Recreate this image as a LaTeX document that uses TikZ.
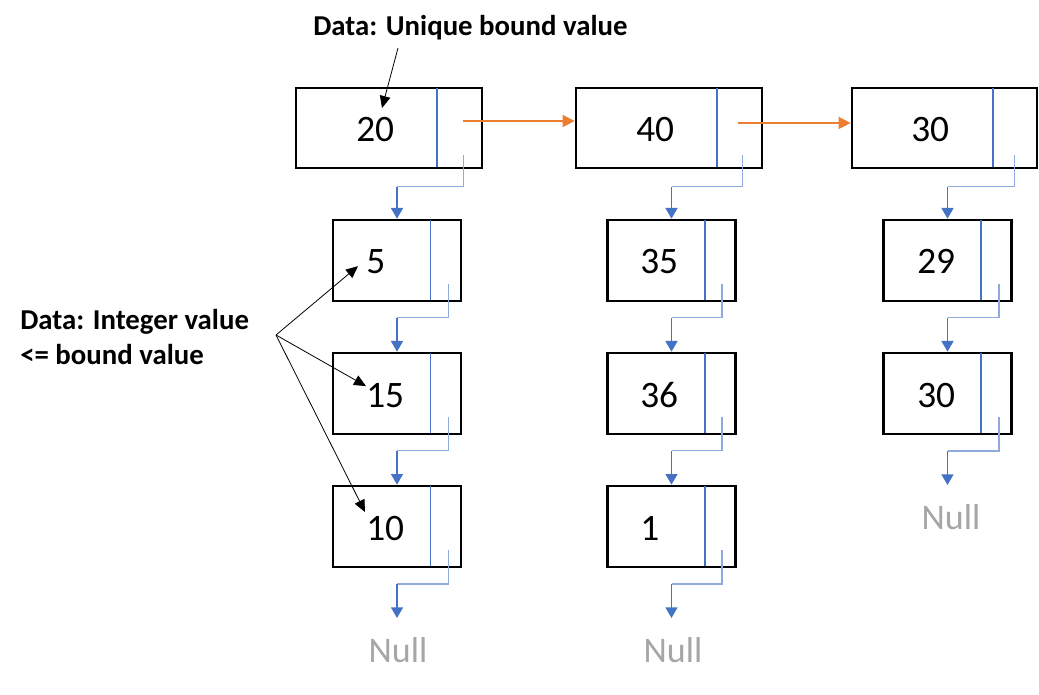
\documentclass[tikz,border=0pt]{standalone}
\usepackage{fontspec}
\setmainfont{Carlito}
\usetikzlibrary{arrows.meta,calc}
\definecolor{boxblue}{HTML}{4472C4}
\definecolor{lightblue}{HTML}{8FAADC}
\definecolor{orng}{HTML}{ED7D31}
\definecolor{nullgray}{HTML}{A6A6A6}
\tikzset{
  bigbox/.style={draw=black, line width=2pt, minimum width=139.5pt, minimum height=60pt, inner sep=0pt},
  smallbox/.style={draw=black, line width=2pt, minimum width=96pt, minimum height=60.75pt, inner sep=0pt},
  num/.style={font=\fontsize{28}{30}\selectfont, anchor=base west, inner sep=0pt},
  nulltxt/.style={font=\fontsize{27}{30}\selectfont, text=nullgray, inner sep=0pt},
  lbl/.style={font=\fontsize{21.6}{26}\selectfont\bfseries, inner sep=0pt, align=left},
  divider/.style={draw=boxblue, line width=1pt},
  ptra/.style={draw=lightblue, line width=1.1pt},
  ptrb/.style={draw=boxblue, line width=1.1pt, -{Triangle[length=8pt,width=9pt]}},
  nextp/.style={draw=orng, line width=1pt, -{Triangle[length=9pt,width=9pt]}},
  annot/.style={draw=black, line width=0.6pt, -{Triangle[length=9pt,width=8pt]}},
}
\begin{document}
\begin{tikzpicture}[x=0.75pt,y=-0.75pt]
\useasboundingbox (0,0) rectangle (1039,695);

% top row boxes
\node[bigbox] (A) at (389,128) {};
\node[bigbox] (B) at (669,128) {};
\node[bigbox, minimum width=138.75pt] (C) at (944.5,128) {};
% lower boxes
\node[smallbox] (a1) at (397,260.5) {};
\node[smallbox] (a2) at (397,393.5) {};
\node[smallbox] (a3) at (397,526.5) {};
\node[smallbox] (b1) at (671.5,260.5) {};
\node[smallbox] (b2) at (671.5,393.5) {};
\node[smallbox] (b3) at (671.5,526.5) {};
\node[smallbox] (c1) at (947.5,260.5) {};
\node[smallbox] (c2) at (947.5,393.5) {};

% dividers
\foreach \n/\d in {A/46.5,B/46.5,C/45.5}{
  \draw[divider] ($(\n.north east)+(-\d,1)$) -- ($(\n.south east)+(-\d,-2)$);
}
\foreach \n in {a1,a2,a3,b1,b2,b3,c1,c2}{
  \draw[divider] ($(\n.north east)+(-32,1)$) -- ($(\n.south east)+(-32,-2)$);
}

% numbers
\node[num] (nA) at (356,141.5) {20};
\node[num] (nB) at (636,141.5) {40};
\node[num] (nC) at (911,141.5) {30};
\node[num] (n5) at (366,274) {5};
\node[num] (n15) at (366,407) {15};
\node[num] (n10) at (366,540) {10};
\node[num] (n35) at (640,274) {35};
\node[num] (n36) at (640,407) {36};
\node[num] (n1) at (640,540) {1};
\node[num] (n29) at (917,274) {29};
\node[num] (n30) at (917,407) {30};

% null labels
\coordinate (zA) at (397,618);
\coordinate (zB) at (671.5,618);
\coordinate (zC) at (947.5,485);
\node[nulltxt] (nullA) at (398,650) {Null};
\node[nulltxt] (nullB) at (673,650) {Null};
\node[nulltxt] (nullC) at (951,517) {Null};

% next pointers (orange)
\draw[nextp] ($(A.east)+(-20,-7)$) -- ($(B.west)+(0,-7)$);
\draw[nextp] ($(B.east)+(-25,-5)$) -- ($(C.west)+(0,-5)$);

% down pointers (blue)
\draw[ptra] ($(A.south east)+(-20,-14)$) |- ($(a1.north)+(0,-32)$) coordinate (qA);
\draw[ptrb] (qA) -- (a1.north);
\draw[ptra] ($(B.south east)+(-21,-14)$) |- ($(b1.north)+(0,-32)$) coordinate (qB);
\draw[ptrb] (qB) -- (b1.north);
\draw[ptra] ($(C.south east)+(-24,-14)$) |- ($(c1.north)+(0,-32)$) coordinate (qC);
\draw[ptrb] (qC) -- (c1.north);

\draw[ptra] ($(a1.south east)+(-14,-18)$) |- ($(a2.north)+(0,-34)$) coordinate (q1);
\draw[ptrb] (q1) -- (a2.north);
\draw[ptra] ($(a2.south east)+(-14,-18)$) |- ($(a3.north)+(0,-34)$) coordinate (q2);
\draw[ptrb] (q2) -- (a3.north);
\draw[ptra] ($(a3.south east)+(-14,-18)$) |- ($(zA)+(0,-34)$) coordinate (q3);
\draw[ptrb] (q3) -- (zA);

\draw[ptra] ($(b1.south east)+(-15,-18)$) |- ($(b2.north)+(0,-34)$) coordinate (q4);
\draw[ptrb] (q4) -- (b2.north);
\draw[ptra] ($(b2.south east)+(-15,-18)$) |- ($(b3.north)+(0,-34)$) coordinate (q5);
\draw[ptrb] (q5) -- (b3.north);
\draw[ptra] ($(b3.south east)+(-15,-18)$) |- ($(zB)+(0,-34)$) coordinate (q6);
\draw[ptrb] (q6) -- (zB);

\draw[ptra] ($(c1.south east)+(-14,-18)$) |- ($(c2.north)+(0,-34)$) coordinate (q7);
\draw[ptrb] (q7) -- (c2.north);
\draw[ptra] ($(c2.south east)+(-14,-18)$) |- ($(zC)+(0,-34)$) coordinate (q8);
\draw[ptrb] (q8) -- (zC);

% annotations
\node[lbl, anchor=base west] (L1) at (313,36) {Data: Unique bound value};
\node[lbl, anchor=north west] (L2) at (20,309) {Data: Integer value\\<= bound value};
\coordinate (t0) at (398,48);
\draw[annot] (t0) -- ($(nA.north west)+(26,-9)$);
\coordinate (br) at (276,335);
\draw[annot] (br) -- ($(n5.west)+(-8,4)$);
\draw[annot] (br) -- ($(n15.west)+(0,-9)$);
\draw[annot] (br) -- ($(n10.west)+(-1,-16)$);
\end{tikzpicture}
\end{document}
